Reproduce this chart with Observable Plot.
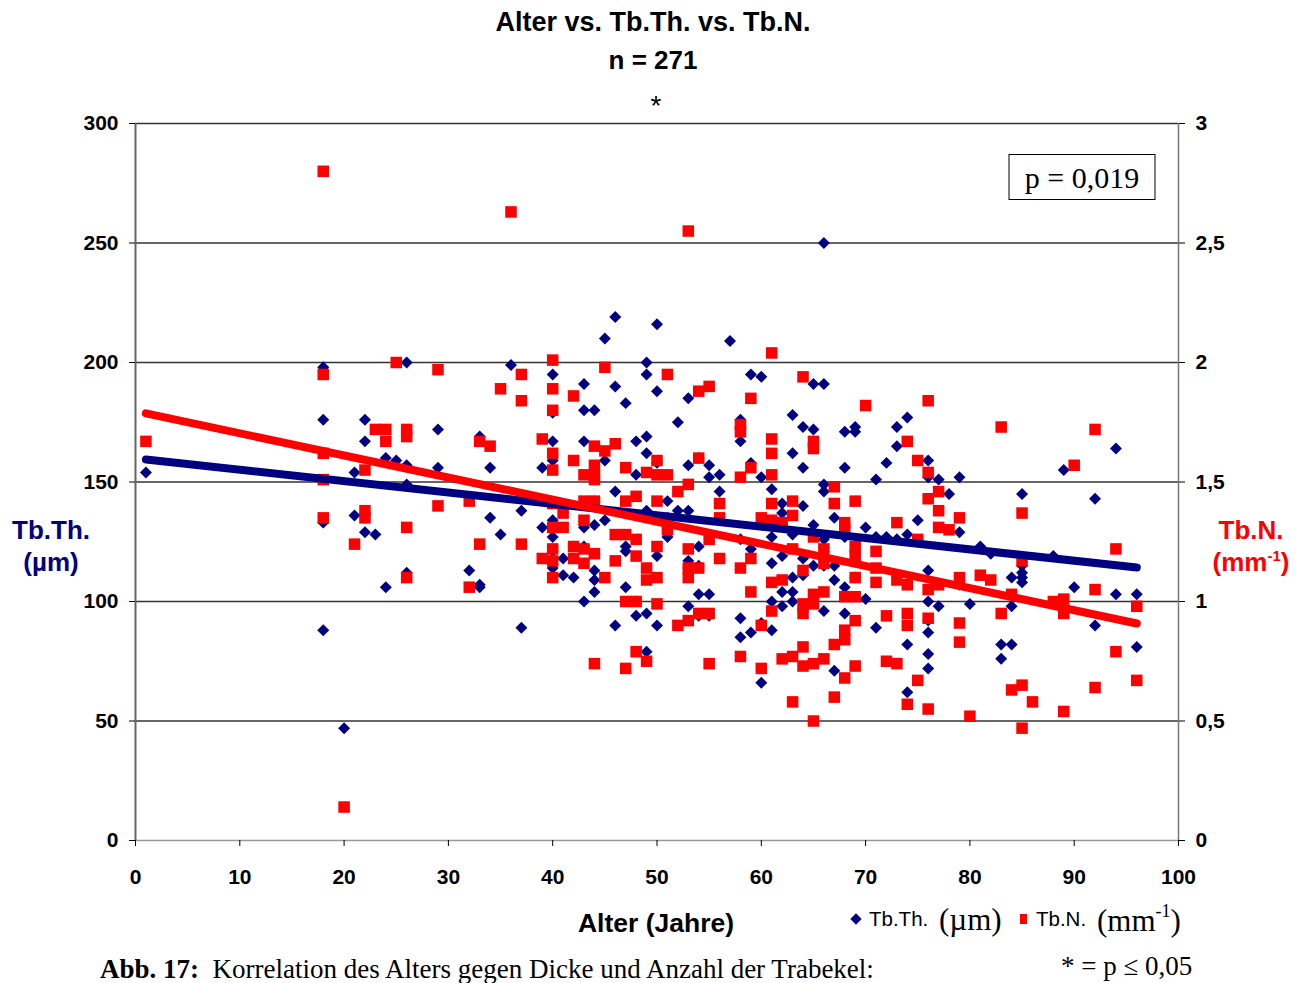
<!DOCTYPE html>
<html><head><meta charset="utf-8">
<script src="https://cdn.jsdelivr.net/npm/d3@7"></script>
<script src="https://cdn.jsdelivr.net/npm/@observablehq/plot@0.6"></script>
<style>
body{margin:0;background:#fff;}
#wrap{position:relative;width:1308px;height:983px;overflow:hidden;font-family:"Liberation Sans",Arial,sans-serif;color:#000;}
#wrap svg{position:absolute;left:0;top:0;}
.abs{position:absolute;white-space:nowrap;line-height:1;}
.c{transform:translate(-50%,-50%);}
.v{transform:translateY(-50%);}
.serif{font-family:"Liberation Serif","Times New Roman",serif;}
</style></head><body>
<div id="wrap">
  <div class="abs c" style="left:653px;top:22px;font-weight:bold;font-size:27px">Alter vs. Tb.Th. vs. Tb.N.</div>
  <div class="abs c" style="left:653px;top:60px;font-weight:bold;font-size:26px">n = 271</div>
  <div class="abs c" style="left:656px;top:106px;font-size:28px">*</div>
  <div class="abs c" style="left:51px;top:530px;font-weight:bold;font-size:26px;color:#000080">Tb.Th.</div>
  <div class="abs c" style="left:51px;top:562px;font-weight:bold;font-size:26px;color:#000080">(µm)</div>
  <div class="abs c" style="left:1251px;top:530px;font-weight:bold;font-size:26px;color:#ff0000">Tb.N.</div>
  <div class="abs c" style="left:1251px;top:561px;font-weight:bold;font-size:26px;color:#ff0000">(mm<sup style="font-size:15px;vertical-align:10px">-1</sup>)</div>
  <div class="abs c" style="left:656px;top:923px;font-weight:bold;font-size:26.5px">Alter (Jahre)</div>
  <div class="abs" style="left:852px;top:915px;width:8px;height:8px;background:#000080;transform:rotate(45deg)"></div>
  <div class="abs v" style="left:869px;top:919px;font-size:20.5px">Tb.Th.</div>
  <div class="abs v serif" style="left:939px;top:919px;font-size:31px">(µm)</div>
  <div class="abs" style="left:1020px;top:914px;width:7px;height:10px;background:#ff0000"></div>
  <div class="abs v" style="left:1036px;top:919px;font-size:20.5px">Tb.N.</div>
  <div class="abs v serif" style="left:1097px;top:919px;font-size:31px">(mm<sup style="font-size:18px;vertical-align:14px">-1</sup>)</div>
  <div class="abs c serif" style="left:1082px;top:177px;font-size:30px;border:1.5px solid #000;padding:8px 10px 6px 10px;width:125px;text-align:center">p = 0,019</div>
  <div class="abs v serif" style="left:1061px;top:966px;font-size:27px">* = p ≤ 0,05</div>
  <div class="abs serif" style="left:100px;top:956px;font-size:27px"><b>Abb. 17:</b>&nbsp; Korrelation des Alters gegen Dicke und Anzahl der Trabekel:</div>
</div>
<script>
const xTicks = [0,10,20,30,40,50,60,70,80,90,100];
const yTicks = [0,50,100,150,200,250,300];
// Tb.Th. (µm) vs Alter
const tbThPoints = [
[1,154],[18,198],[18,176],[18,133],[18,88],[20,47],[21,136],[21,154],[22,176],[22,167],[22,129],[23,128],
[24,160],[24,106],[25,159],[26,200],[26,157],[26,149],[26,112],[29,172],[29,156],[32,113],[33,169],[33,107],
[33,106],[34,156],[34,135],[35,128],[36,199],[37,138],[37,89],[39,156],[39,131],[40,195],[40,179],[40,167],
[40,159],[40,134],[40,127],[40,121],[40,114],[41,111],[41,118],[42,110],[42,123],[43,191],[43,180],[43,167],
[43,131],[43,100],[43,123],[44,180],[44,142],[44,132],[44,109],[44,104],[44,113],[45,210],[45,159],[45,134],
[46,219],[46,190],[46,146],[46,90],[47,183],[47,123],[47,106],[47,121],[48,167],[48,153],[48,94],[48,100],
[49,200],[49,195],[49,169],[49,162],[49,138],[49,95],[49,79],[50,216],[50,188],[50,158],[50,119],[50,90],
[51,142],[51,135],[51,127],[52,175],[52,138],[53,185],[53,157],[53,138],[53,117],[53,98],[53,114],[54,160],
[54,123],[54,115],[54,103],[54,94],[55,157],[55,152],[55,94],[55,103],[56,153],[56,146],[57,209],[58,176],
[58,167],[58,126],[58,85],[58,93],[59,195],[59,158],[59,87],[59,122],[60,194],[60,152],[60,66],[60,91],
[61,147],[61,127],[61,116],[61,100],[61,88],[62,141],[62,137],[62,119],[62,104],[62,98],[63,178],[63,162],
[63,128],[63,110],[63,104],[63,100],[64,173],[64,156],[64,140],[64,118],[64,111],[64,96],[65,191],[65,172],
[65,132],[65,115],[66,250],[66,191],[66,149],[66,146],[66,126],[66,115],[66,96],[67,135],[67,115],[67,109],
[67,71],[68,171],[68,156],[68,127],[68,106],[68,95],[69,173],[69,171],[69,110],[70,131],[70,101],[71,151],
[71,127],[71,89],[72,158],[72,127],[73,165],[73,173],[73,126],[74,177],[74,128],[74,62],[74,82],[75,134],
[76,159],[76,152],[76,113],[76,87],[76,78],[76,72],[76,92],[76,100],[77,151],[77,98],[78,145],[79,152],
[79,129],[79,107],[80,99],[81,123],[82,120],[83,82],[83,76],[84,110],[84,98],[84,82],[85,145],[85,115],
[85,112],[85,110],[85,108],[88,119],[89,155],[90,106],[92,143],[92,90],[94,164],[94,103],[96,103],[96,81]
];
// Tb.N. (mm^-1) vs Alter
const tbNPoints = [
[1,1.67],[18,2.80],[18,1.95],[18,1.62],[18,1.51],[18,1.35],[20,0.14],[21,1.24],[22,1.55],[22,1.38],[22,1.35],
[23,1.72],[24,1.72],[24,1.67],[25,2.00],[26,1.72],[26,1.69],[26,1.31],[26,1.10],[29,1.97],[29,1.40],[32,1.42],
[32,1.06],[33,1.67],[33,1.24],[34,1.65],[35,1.89],[36,2.63],[37,1.95],[37,1.84],[37,1.24],[39,1.68],[39,1.18],
[40,2.01],[40,1.89],[40,1.80],[40,1.62],[40,1.55],[40,1.41],[40,1.31],[40,1.22],[40,1.17],[40,1.10],[41,1.31],
[41,1.37],[42,1.86],[42,1.59],[42,1.23],[42,1.18],[43,1.53],[43,1.34],[43,1.22],[43,1.16],[43,1.42],[44,1.65],
[44,1.57],[44,1.51],[44,1.42],[44,1.20],[44,0.74],[44,1.53],[45,1.98],[45,1.63],[45,1.10],[46,1.66],[46,1.28],
[46,1.17],[47,1.56],[47,1.42],[47,1.00],[47,0.72],[47,1.28],[48,1.44],[48,1.26],[48,1.19],[48,1.00],[48,0.79],
[49,1.54],[49,1.14],[49,1.09],[49,0.75],[50,1.59],[50,1.53],[50,1.42],[50,1.23],[50,1.10],[50,0.99],[51,1.95],
[51,1.53],[51,1.30],[52,1.46],[52,0.90],[53,2.55],[53,1.49],[53,1.22],[53,1.14],[53,1.10],[53,0.92],[54,1.88],
[54,1.60],[54,1.14],[54,0.95],[55,1.90],[55,1.26],[55,0.95],[55,0.74],[56,1.41],[56,1.35],[56,1.18],[58,1.74],
[58,1.71],[58,1.52],[58,1.14],[58,0.77],[59,1.85],[59,1.56],[59,1.04],[59,1.18],[60,1.35],[60,0.90],[60,0.72],
[61,2.04],[61,1.68],[61,1.62],[61,1.53],[61,1.41],[61,1.34],[61,1.08],[61,0.96],[62,1.33],[62,1.09],[62,0.76],
[63,1.42],[63,1.36],[63,1.22],[63,0.77],[63,0.58],[64,1.94],[64,1.13],[64,0.99],[64,0.95],[64,0.81],[64,0.73],
[65,1.67],[65,1.64],[65,1.27],[65,1.03],[65,0.99],[65,0.74],[65,0.50],[66,1.22],[66,1.16],[66,1.04],[66,0.76],
[67,1.48],[67,1.41],[67,0.82],[67,0.60],[68,1.33],[68,1.30],[68,1.02],[68,0.88],[68,0.84],[68,0.68],[69,1.42],
[69,1.23],[69,1.19],[69,1.10],[69,1.02],[69,0.92],[69,0.73],[70,1.82],[71,1.21],[71,1.14],[71,1.08],[72,0.94],
[72,0.75],[73,1.33],[73,1.09],[73,0.74],[74,1.67],[74,1.07],[74,0.95],[74,0.90],[74,0.57],[75,1.59],[75,1.26],
[75,0.67],[76,1.84],[76,1.54],[76,1.43],[76,1.05],[76,0.93],[76,0.55],[77,1.46],[77,1.38],[77,1.31],[77,1.07],
[78,1.30],[79,1.35],[79,1.10],[79,0.91],[79,0.83],[80,0.52],[81,1.11],[82,1.09],[83,1.73],[83,0.95],[84,1.03],
[84,0.63],[85,1.37],[85,1.17],[85,0.65],[85,0.47],[86,0.58],[88,1.00],[89,1.01],[89,0.95],[89,0.54],[90,1.57],
[92,1.72],[92,1.05],[92,0.64],[94,1.22],[94,0.79],[96,0.98],[96,0.67]
];
// linear trend lines (end points)
const tbThTrend = [[1,159.4],[96,114.2]];
const tbNTrend = [[1,1.787],[96,0.908]];
const tbNFactor = 100; // right axis 0–3 maps onto left axis 0–300

const chart = Plot.plot({
  width: 1308, height: 983,
  marginLeft: 135, marginRight: 130, marginTop: 123, marginBottom: 143,
  style: {fontFamily: '"Liberation Sans", Arial, sans-serif', fontSize: "21px", fontWeight: "bold", color: "#000", background: "transparent"},
  x: {domain: [0, 100]},
  y: {domain: [0, 300]},
  marks: [
    Plot.ruleY(yTicks.filter(d => d > 0), {stroke: "#333", strokeWidth: 1.3}),
    Plot.ruleY([0], {stroke: "#999", strokeWidth: 1.5}),
    Plot.ruleX([0], {stroke: "#666", strokeWidth: 2}),
    Plot.ruleX([100], {stroke: "#777", strokeWidth: 1.5}),
    Plot.axisY({ticks: yTicks, tickSize: 6, tickPadding: 11, label: null}),
    Plot.axisY({anchor: "right", ticks: yTicks, tickSize: 6, tickPadding: 11, label: null,
      tickFormat: d => String(d / tbNFactor).replace(".", ",")}),
    Plot.axisX({ticks: xTicks, tickSize: 6, tickPadding: 23, label: null}),
    Plot.dot(tbThPoints, {x: d => d[0], y: d => d[1], symbol: "diamond2", r: 5.4, fill: "#000080"}),
    Plot.dot(tbNPoints, {x: d => d[0], y: d => d[1] * tbNFactor, symbol: "square", r: 6.5, fill: "#ff0000"}),
    Plot.line(tbThTrend, {x: d => d[0], y: d => d[1], stroke: "#000080", strokeWidth: 8, strokeLinecap: "round"}),
    Plot.line(tbNTrend, {x: d => d[0], y: d => d[1] * tbNFactor, stroke: "#ff0000", strokeWidth: 8, strokeLinecap: "round"})
  ]
});
document.getElementById("wrap").prepend(chart);
</script>
</body></html>
